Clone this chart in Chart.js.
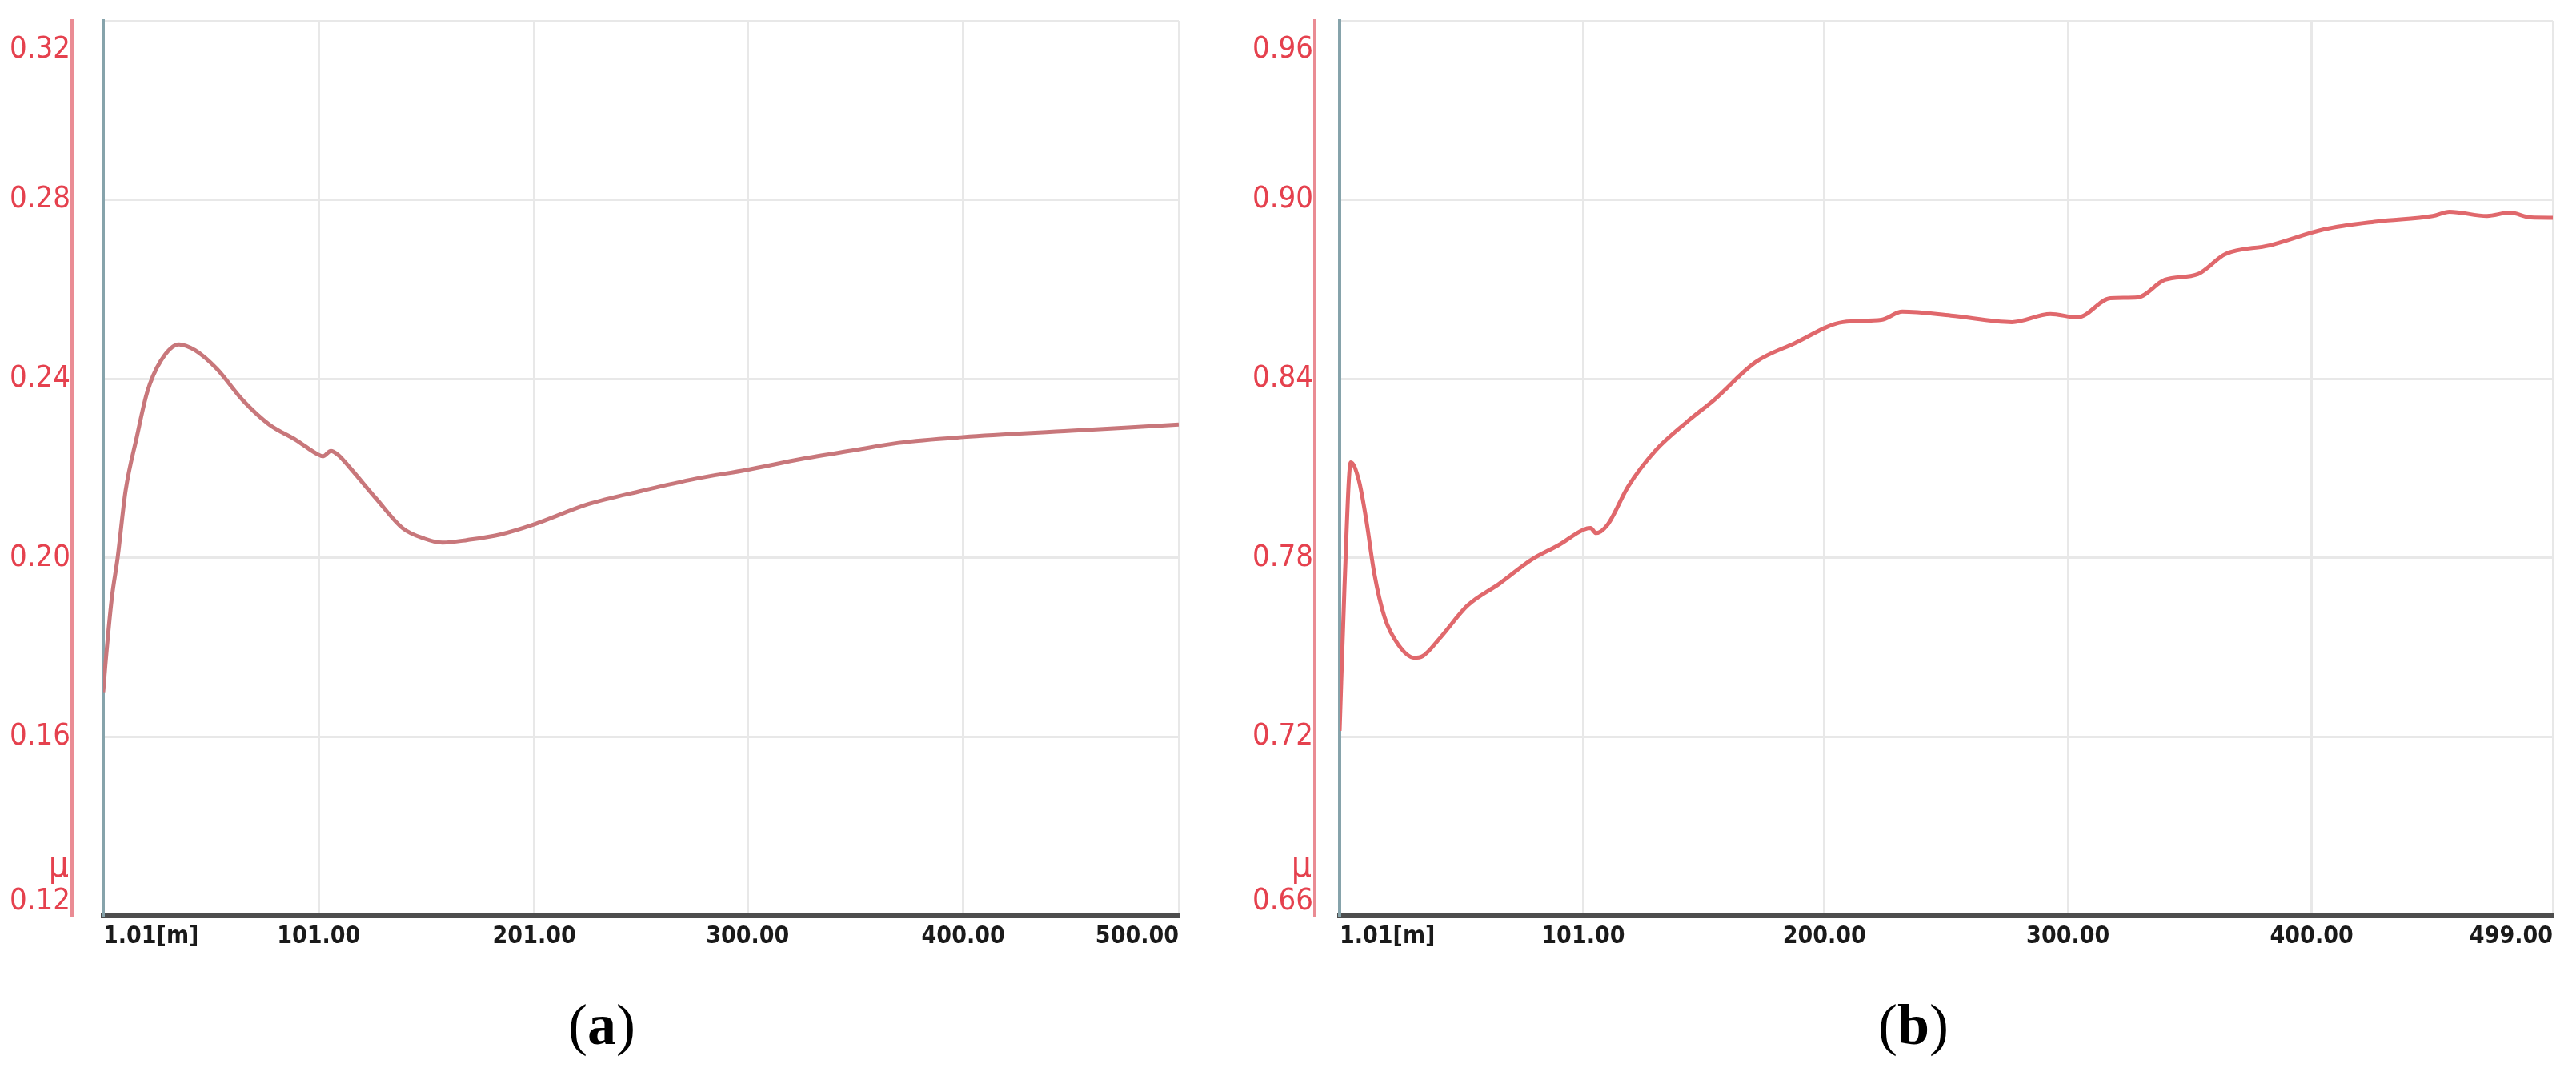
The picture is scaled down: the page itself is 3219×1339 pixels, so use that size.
<!DOCTYPE html>
<html>
<head>
<meta charset="utf-8">
<script src="https://cdn.jsdelivr.net/npm/chart.js@4.4.1/dist/chart.umd.min.js"></script>
<style>
  html, body { margin: 0; padding: 0; background: #fff; }
  body { width: 3219px; height: 1339px; position: relative; overflow: hidden; }
  .panel { position: absolute; top: 0; height: 1204px; }
  .caption { position: absolute; top: 1240px; width: 300px; height: 80px; line-height: 80px;
             font-family: 'Liberation Serif', 'Times New Roman', serif; font-size: 72px;
             color: #000; text-align: center; }
</style>
</head>
<body>
<div class="panel" style="left:0px;width:1530px"><canvas id="chartA"></canvas></div>
<div class="panel" style="left:1560px;width:1659px"><canvas id="chartB"></canvas></div>
<div class="caption" style="left:602px">(<b>a</b>)</div>
<div class="caption" style="left:2241px">(<b>b</b>)</div>

<script>
// panel (a)
const xA = [1.01, 2, 5, 7.7, 11.4, 16.6, 21.4, 27.7, 36.2, 43.6, 53.6, 65.8, 78, 90.6, 100.3, 103, 106.6, 110,
            115, 127.7, 140, 150, 158.4, 170, 185, 201, 226, 251, 276, 300, 325, 350, 370, 400, 450, 500];
const yA = [0.170, 0.176, 0.191, 0.200, 0.215, 0.227, 0.237, 0.244, 0.2477, 0.2464, 0.2423, 0.2352, 0.2298, 0.2263,
            0.2232, 0.2227, 0.2239, 0.2230, 0.2204, 0.2132, 0.2066, 0.2043, 0.2034, 0.2040, 0.2052, 0.2075, 0.2120,
            0.2150, 0.2177, 0.2197, 0.2221, 0.2241, 0.2257, 0.2270, 0.2284, 0.2298];
const xTicksA = [1.01, 101, 201, 300, 400, 500];
const xLabelsA = ['1.01[m]', '101.00', '201.00', '300.00', '400.00', '500.00'];
const yTicksA = [0.12, 0.16, 0.20, 0.24, 0.28, 0.32];
const yLabelsA = ['0.12', '0.16', '0.20', '0.24', '0.28', '0.32'];

// panel (b)
const xB = [1.01, 3, 5.6, 8.9, 11.9, 15.2, 19.5, 25, 31.7, 35, 42.6, 53.5, 66.7, 80, 91, 101, 104, 106.3, 110.9,
            119.5, 130.7, 143.9, 154.8, 171.7, 187.5, 207.6, 223.4, 232, 252, 277, 292.8, 304, 317.4, 328.6,
            339.8, 353.3, 364.5, 382.6, 405, 427.3, 449.7, 456.6, 472, 481.3, 490, 499];
const yB = [0.722, 0.770, 0.812, 0.806, 0.793, 0.775, 0.760, 0.751, 0.7465, 0.747, 0.7535, 0.764, 0.7714, 0.7795,
            0.7843, 0.7894, 0.7900, 0.7883, 0.791, 0.804, 0.816, 0.8258, 0.833, 0.8456, 0.8518, 0.859, 0.8598,
            0.8625, 0.8612, 0.859, 0.8617, 0.8606, 0.867, 0.8673, 0.8732, 0.8751, 0.8818, 0.8847, 0.8901, 0.8928,
            0.8946, 0.896, 0.8946, 0.8957, 0.8941, 0.894];
const xTicksB = [1.01, 101, 200, 300, 400, 499];
const xLabelsB = ['1.01[m]', '101.00', '200.00', '300.00', '400.00', '499.00'];
const yTicksB = [0.66, 0.72, 0.78, 0.84, 0.90, 0.96];
const yLabelsB = ['0.66', '0.72', '0.78', '0.84', '0.90', '0.96'];

const narrow = "'Liberation Sans Narrow', 'Arial Narrow', 'DejaVu Sans Condensed', sans-serif";
const redText = '#e5414e';
const gridColor = '#e8e8e8';

// the little "μ" above the lowest value label
const muLabel = {
    id: 'muLabel',
    afterDraw(chart) {
        const s = chart.scales.y;
        const ctx = chart.ctx;
        ctx.save();
        ctx.fillStyle = redText;
        ctx.font = '44px ' + narrow;
        ctx.textAlign = 'right';
        ctx.textBaseline = 'middle';
        ctx.fillText('μ', s.right - 4, s.getPixelForValue(s.min) - 60);
        ctx.restore();
    }
};

function makeChart(id, xs, ys, xTicks, xLabels, yTicks, yLabels, o) {
    const pts = xs.map((x, i) => ({ x: x, y: ys[i] }));
    const setY = s => { s.ticks = yTicks.map(v => ({ value: v })); };
    const last = yTicks.length - 1;
    return new Chart(document.getElementById(id), {
        type: 'line',
        data: {
            datasets: [{
                data: pts,
                yAxisID: 'y',
                borderColor: o.lineColor,
                borderWidth: 5,
                pointRadius: 0,
                cubicInterpolationMode: 'monotone',
                fill: false
            }]
        },
        options: {
            responsive: true,
            maintainAspectRatio: false,
            animation: false,
            layout: { padding: { top: 26, right: o.padRight, bottom: 0, left: 0 } },
            plugins: { legend: { display: false }, tooltip: { enabled: false } },
            scales: {
                x: {
                    type: 'linear',
                    min: xTicks[0],
                    max: xTicks[xTicks.length - 1],
                    afterBuildTicks: s => { s.ticks = xTicks.map(v => ({ value: v })); },
                    afterFit: s => { s.height = 60; s.paddingLeft = 0; s.paddingRight = 0; },
                    grid: { color: gridColor, lineWidth: 3, drawTicks: false },
                    border: { color: '#4d4d4d', width: 6 },
                    ticks: {
                        align: 'inner', padding: 8, autoSkip: false, maxRotation: 0,
                        color: '#1a1a1a', font: { family: narrow, size: 30, weight: 'bold' },
                        callback: (v, i) => xLabels[i]
                    }
                },
                y: {
                    position: 'left',
                    weight: 1,
                    min: yTicks[0],
                    max: yTicks[last],
                    afterBuildTicks: setY,
                    afterFit: s => { s.width = o.outerW; s.paddingTop = 0; s.paddingBottom = 0; },
                    grid: { display: false, drawTicks: false },
                    border: { color: 'rgba(232,128,136,0.9)', width: 4 },
                    ticks: {
                        padding: 2,
                        color: redText,
                        font: { family: narrow, size: o.ySize, lineHeight: 0.95 },
                        callback: (v, i) => {
                            if (i === last) return ['', '', yLabels[i]];
                            if (i === 0) return [yLabels[i], ''];
                            return yLabels[i];
                        }
                    }
                },
                y2: {
                    position: 'left',
                    weight: 0,
                    min: yTicks[0],
                    max: yTicks[last],
                    afterBuildTicks: setY,
                    afterFit: s => { s.width = o.innerW; s.paddingTop = 0; s.paddingBottom = 0; },
                    grid: { color: gridColor, lineWidth: 3, drawTicks: false },
                    border: { color: '#86a3ab', width: 4 },
                    ticks: { display: false }
                }
            }
        },
        plugins: [muLabel]
    });
}

makeChart('chartA', xA, yA, xTicksA, xLabelsA, yTicksA, yLabelsA,
    { lineColor: '#c8777b', padRight: 57, outerW: 90, innerW: 39, ySize: 38 });
makeChart('chartB', xB, yB, xTicksB, xLabelsB, yTicksB, yLabelsB,
    { lineColor: '#e0686c', padRight: 29, outerW: 83, innerW: 31, ySize: 38 });
</script>
</body>
</html>
